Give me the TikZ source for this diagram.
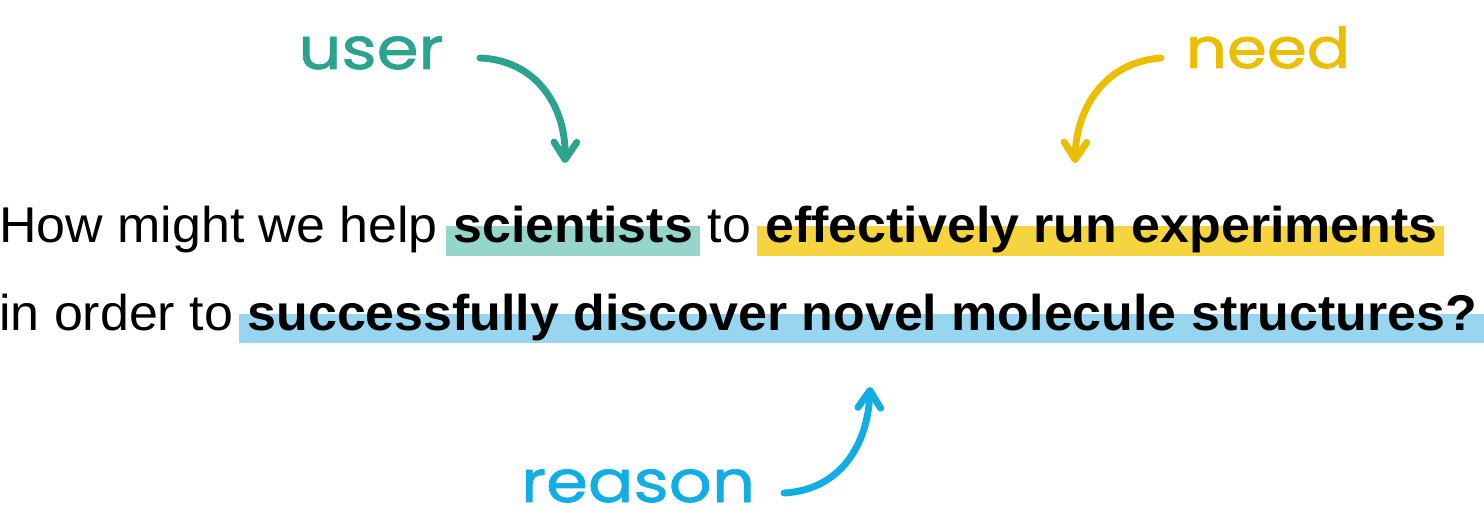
\documentclass[tikz,border=0pt]{standalone}
\usepackage{fontspec}
\setmainfont{Liberation Sans}[FakeStretch=1.033]
\newfontfamily\handfont{Poppins}[FakeStretch=1.15,FakeBold=1.2]
\usetikzlibrary{arrows.meta,calc}
\definecolor{hlteal}{HTML}{96D5CA}
\definecolor{hlyellow}{HTML}{F5D43F}
\definecolor{hlblue}{HTML}{97D6EE}
\definecolor{cteal}{HTML}{2BA38E}
\definecolor{cyellow}{HTML}{EBBF00}
\definecolor{cblue}{HTML}{12AEE3}
\pgfdeclarelayer{bg}
\pgfsetlayers{bg,main}
\tikzset{
  txt/.style={inner sep=0pt, anchor=base west, font=\fontsize{37.7}{40}\selectfont},
  boldtxt/.style={txt, font=\fontsize{37.7}{40}\selectfont\bfseries},
  lbl/.style={inner sep=0pt, anchor=base, font=\handfont\fontsize{44}{48}\selectfont},
  hand/.style={line width=5.2pt, line cap=round, -{Straight Barb[length=13pt,width=17pt,round]}},
}
\begin{document}
\begin{tikzpicture}[x=0.75pt,y=-0.75pt]
\useasboundingbox (0,0) rectangle (1484,528);
% line 1
\node[txt] (l1a) at (-1,242) {How might we help};
\node[boldtxt] (sci) at ($(l1a.base east)+(15,0)$) {scientists};
\node[txt] (to) at ($(sci.base east)+(14,0)$) {to};
\node[boldtxt] (eff) at ($(to.base east)+(14,0)$) {effectively run experiments};
% line 2
\node[txt] (l2a) at (-1,330) {in order to};
\node[boldtxt] (suc) at ($(l2a.base east)+(14,0)$) {successfully discover novel molecule structures?};
% highlights
\begin{pgfonlayer}{bg}
\fill[hlteal] ($(sci.base west)+(-7,-16)$) rectangle ($(sci.base east)+(7,14)$);
\fill[hlyellow] ($(eff.base west)+(-8,-16)$) rectangle ($(eff.base east)+(6,14)$);
\fill[hlblue] ($(suc.base west)+(-8,-16)$) rectangle (1484,343);
\end{pgfonlayer}
% labels
\node[lbl, text=cteal] (user) at (371,69) {user};
\node[lbl, text=cyellow, font=\handfont\fontsize{42}{46}\selectfont] (need) at (1268,68) {need};
\node[lbl, text=cblue] (reason) at (638,502) {reason};
% arrow end points
\coordinate (ua) at (480,58);
\coordinate (ub) at (565,163);
\coordinate (na) at (1161,58);
\coordinate (nb) at (1075,163);
\coordinate (ra) at (784,493);
\coordinate (rb) at (870,387);
\draw[hand, cteal] (ua) .. controls (535,60) and (566,105) .. (ub);
\draw[hand, cyellow] (na) .. controls (1105,62) and (1076,108) .. (nb);
\draw[hand, cblue] (ra) .. controls (840,490) and (868,445) .. (rb);
\end{tikzpicture}
\end{document}
